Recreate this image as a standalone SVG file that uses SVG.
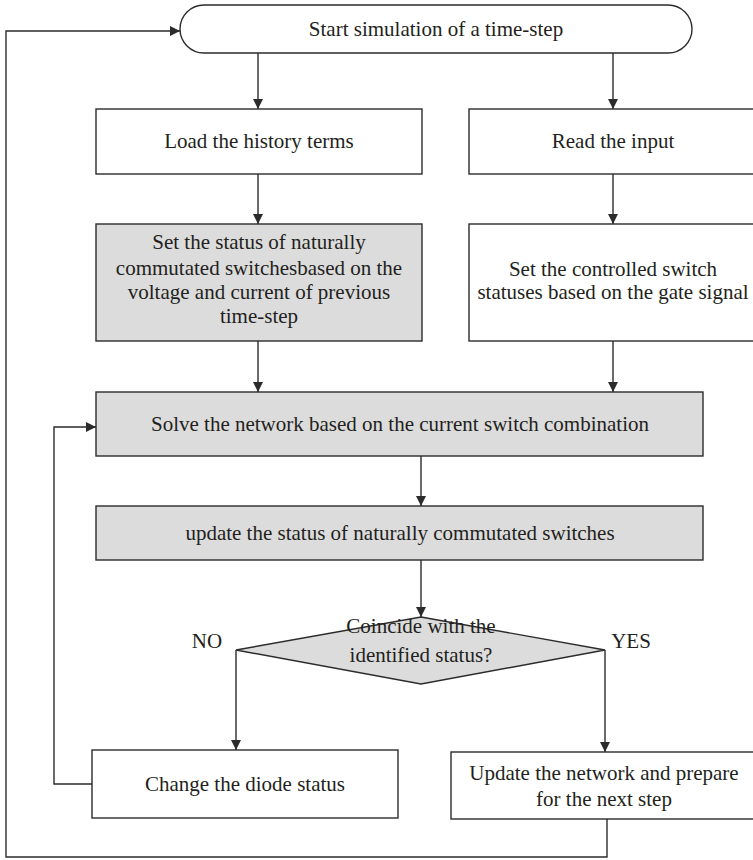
<svg xmlns="http://www.w3.org/2000/svg" width="753" height="860" viewBox="0 0 753 860">
  <style>
    .box { fill: #ffffff; stroke: #2b2b2b; stroke-width: 1.4; }
    .grey { fill: #dcdcdc; stroke: #2b2b2b; stroke-width: 1.4; }
    .edge { fill: none; stroke: #2b2b2b; stroke-width: 1.4; }
    text { font-family: "Liberation Serif", "Times New Roman", serif; font-size: 21px; fill: #231f20; text-anchor: middle; }
  </style>
  <defs>
    <marker id="arrow" viewBox="0 0 10 10" refX="10" refY="5" markerWidth="10" markerHeight="10" markerUnits="userSpaceOnUse" orient="auto">
      <path d="M0,0 L10,5 L0,10 z" fill="#2b2b2b"/>
    </marker>
  </defs>
  <rect width="753" height="860" fill="#ffffff"/>

  <g id="start">
    <rect class="box" x="180" y="5" width="512" height="48" rx="24" ry="24"/>
    <text x="436" y="36">Start simulation of a time-step</text>
  </g>

  <g id="load-history">
    <rect class="box" x="96" y="109" width="326" height="65"/>
    <text x="259" y="148">Load the history terms</text>
  </g>

  <g id="read-input">
    <rect class="box" x="469" y="109" width="300" height="65"/>
    <text x="613" y="148">Read the input</text>
  </g>

  <g id="set-natural">
    <rect class="grey" x="96" y="224" width="326" height="117"/>
    <text x="259" y="249">Set the status of naturally</text>
    <text x="259" y="275">commutated switchesbased on the</text>
    <text x="259" y="299">voltage and current of previous</text>
    <text x="259" y="323">time-step</text>
  </g>

  <g id="set-controlled">
    <rect class="box" x="469" y="224" width="300" height="117"/>
    <text x="613" y="276">Set the controlled switch</text>
    <text x="613" y="299">statuses based on the gate signal</text>
  </g>

  <g id="solve">
    <rect class="grey" x="96" y="392" width="607" height="64"/>
    <text x="400" y="431">Solve the network based on the current switch combination</text>
  </g>

  <g id="update-status">
    <rect class="grey" x="96" y="506" width="607" height="54"/>
    <text x="400" y="540">update the status of naturally commutated switches</text>
  </g>

  <g id="coincide">
    <polygon class="grey" points="421,617 605,650 421,684 236,650"/>
    <text x="421" y="633">Coincide with the</text>
    <text x="421" y="662">identified status?</text>
  </g>

  <g id="change-diode">
    <rect class="box" x="92" y="750" width="306" height="68"/>
    <text x="245" y="791">Change the diode status</text>
  </g>

  <g id="update-network">
    <rect class="box" x="451" y="752" width="310" height="67"/>
    <text x="604" y="780">Update the network and prepare</text>
    <text x="604" y="806">for the next step</text>
  </g>

  <g id="connectors">
    <line class="edge" x1="258" y1="53" x2="258" y2="109" marker-end="url(#arrow)"/>
    <line class="edge" x1="613" y1="53" x2="613" y2="109" marker-end="url(#arrow)"/>
    <line class="edge" x1="258" y1="174" x2="258" y2="224" marker-end="url(#arrow)"/>
    <line class="edge" x1="613" y1="174" x2="613" y2="224" marker-end="url(#arrow)"/>
    <line class="edge" x1="258" y1="341" x2="258" y2="392" marker-end="url(#arrow)"/>
    <line class="edge" x1="613" y1="341" x2="613" y2="392" marker-end="url(#arrow)"/>
    <line class="edge" x1="421" y1="456" x2="421" y2="506" marker-end="url(#arrow)"/>
    <line class="edge" x1="421" y1="560" x2="421" y2="617" marker-end="url(#arrow)"/>
    <polyline class="edge" points="236,650 236,750" marker-end="url(#arrow)"/>
    <polyline class="edge" points="605,650 605,752" marker-end="url(#arrow)"/>
    <polyline class="edge" points="92,784 54,784 54,427 96,427" marker-end="url(#arrow)"/>
    <polyline class="edge" points="607,819 607,857 6,857 6,31 180,31" marker-end="url(#arrow)"/>
    <text x="207" y="648">NO</text>
    <text x="631" y="648">YES</text>
  </g>
</svg>
